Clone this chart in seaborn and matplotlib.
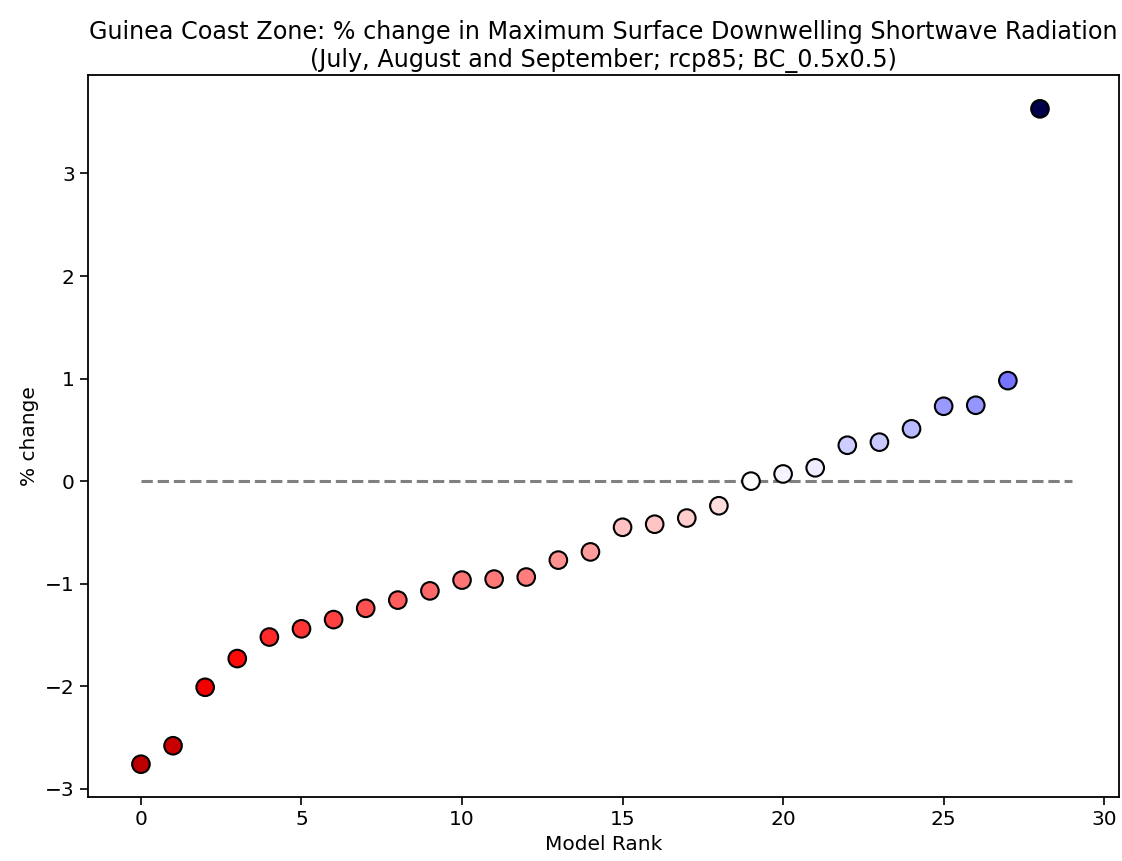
import numpy as np
import pandas as pd
import matplotlib
matplotlib.use("Agg")
import matplotlib.pyplot as plt
import seaborn as sns

ranks = list(range(29))
pct_change = [-2.76, -2.58, -2.01, -1.73, -1.52, -1.44, -1.35, -1.24, -1.16, -1.07,
              -0.965, -0.955, -0.935, -0.77, -0.69, -0.45, -0.42, -0.36, -0.24, 0.0,
              0.07, 0.13, 0.35, 0.38, 0.51, 0.73, 0.74, 0.98, 3.63]

title = ("Guinea Coast Zone: % change in Maximum Surface Downwelling Shortwave Radiation\n"
         "(July, August and September; rcp85; BC_0.5x0.5)")

sns.set_theme(style="ticks")
plt.rcParams['font.family'] = ['DejaVu Sans']
plt.rcParams['axes.edgecolor'] = 'black'
plt.rcParams['xtick.color'] = 'black'
plt.rcParams['ytick.color'] = 'black'
plt.rcParams['text.color'] = 'black'
plt.rcParams['axes.labelcolor'] = 'black'

df = pd.DataFrame({"rank": ranks, "change": pct_change})
vmax = np.max(np.abs(pct_change))

fig = plt.figure(figsize=(11.22, 8.61), dpi=100)
ax = fig.add_axes([0.0784, 0.0743, 0.9186, 0.8386])

ax.hlines(0, ranks[0], len(ranks), colors='grey', linestyles='--', linewidth=2.2, zorder=1)
sns.scatterplot(data=df, x="rank", y="change", hue="change", palette="seismic_r",
                hue_norm=(-vmax, vmax), s=160, edgecolor='black', linewidth=1.5,
                legend=False, ax=ax, zorder=3)

ax.set_title(title, fontsize=17.2)
ax.set_xlabel("Model Rank", fontsize=14.5)
ax.set_ylabel("% change", fontsize=14.5)
ax.tick_params(labelsize=14.5, width=1.2, length=6)
for sp in ax.spines.values():
    sp.set_linewidth(1.3)
    sp.set_visible(True)
ax.set_xticks([0, 5, 10, 15, 20, 25, 30])
ax.set_xlim(-1.65, 30.45)
ax.set_ylim(-3.08, 3.96)

fig.savefig("out.png", dpi=100)
